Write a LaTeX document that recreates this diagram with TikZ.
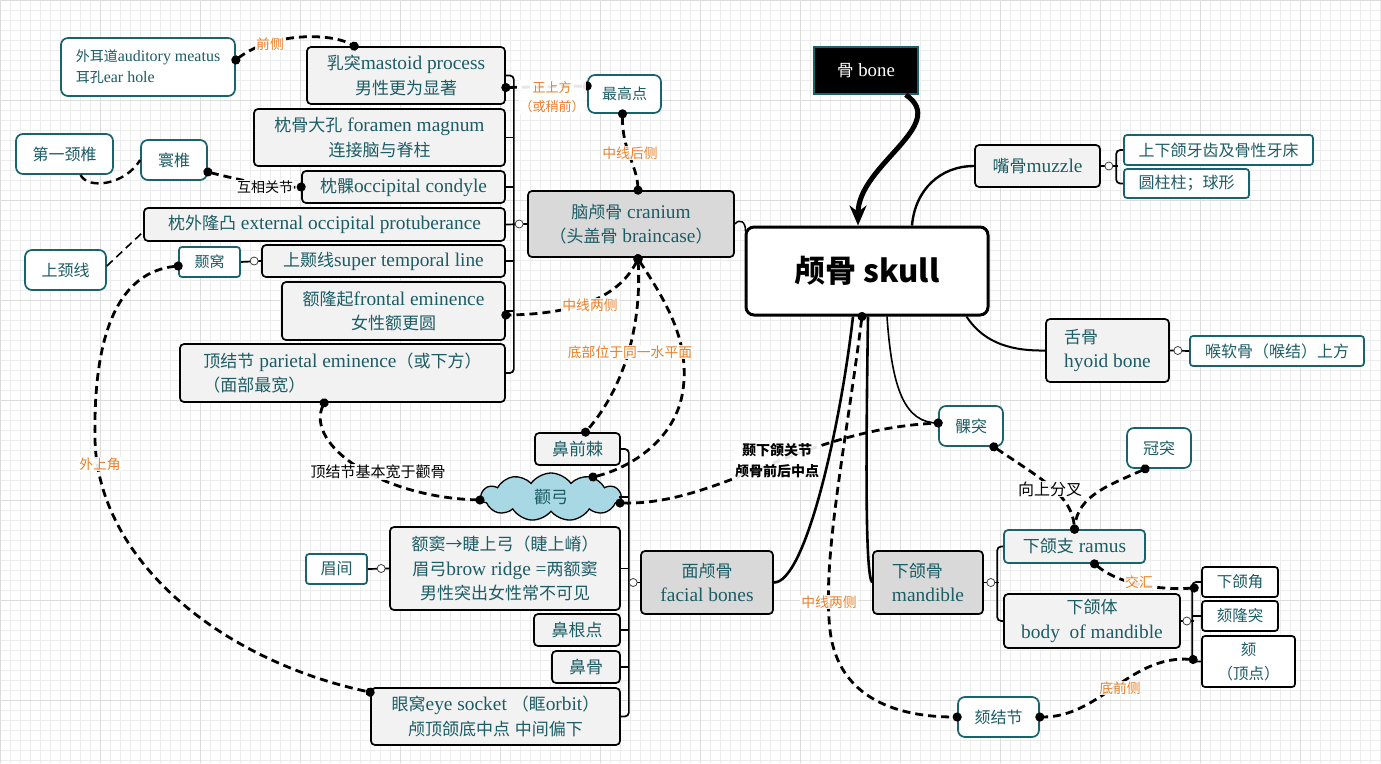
\documentclass[tikz,border=0pt]{standalone}
\usepackage{fontspec}
\setmainfont{Liberation Serif}[Scale=1.14]
\newfontfamily\cjk{Noto Sans CJK SC}
\usetikzlibrary{arrows.meta,shapes.symbols,calc}
\XeTeXinterchartokenstate=1
\newXeTeXintercharclass\CJKcls
\newcount\cjkcnt
\cjkcnt="3000
\loop\ifnum\cjkcnt<"A000
  \XeTeXcharclass\cjkcnt=\CJKcls
  \advance\cjkcnt by 1
\repeat
\cjkcnt="FF00
\loop\ifnum\cjkcnt<"FFF0
  \XeTeXcharclass\cjkcnt=\CJKcls
  \advance\cjkcnt by 1
\repeat
\XeTeXcharclass"2192=\CJKcls
\XeTeXinterchartoks 0 \CJKcls={\begingroup\cjk}
\XeTeXinterchartoks 4095 \CJKcls={\begingroup\cjk}
\XeTeXinterchartoks \CJKcls 0={\endgroup}
\XeTeXinterchartoks \CJKcls 4095={\endgroup}

\definecolor{tealtxt}{RGB}{28,92,100}
\definecolor{tealbd}{RGB}{24,100,110}
\definecolor{lightfill}{RGB}{242,242,242}
\definecolor{grayfill}{RGB}{217,217,217}
\definecolor{orangelab}{RGB}{232,128,40}
\definecolor{cloudblue}{RGB}{168,216,228}
\definecolor{gridminor}{RGB}{236,236,236}
\definecolor{gridmajor}{RGB}{220,220,220}

\begin{document}
\begin{tikzpicture}[x=1pt,y=-1pt,
  sz/.style 2 args={minimum width=#1pt,minimum height=#2pt},
  base/.style={rounded corners=4pt,line width=1.7pt,inner sep=2pt,align=center,text=tealtxt,font=\fontsize{17}{24.5}\selectfont},
  lbox/.style={base,draw=black,fill=lightfill},
  gbox/.style={base,draw=black,fill=grayfill},
  tbox/.style={base,draw=tealbd,fill=white,rounded corners=7pt,font=\fontsize{16}{20}\selectfont},
  tlbox/.style={base,draw=tealbd,fill=lightfill},
  wbox/.style={base,draw=black,fill=white,font=\fontsize{15.5}{20}\selectfont},
  dcon/.style={line width=2.8pt,dash pattern=on 8pt off 5pt,{Circle[length=9pt]}-{Circle[length=9pt]},shorten <=-4.5pt,shorten >=-4.5pt},
  dplain/.style={line width=2.4pt,dash pattern=on 8pt off 5pt},
  brk/.style={line width=1.7pt,rounded corners=4pt},
  ocirc/.style={circle,draw=black!75,fill=white,line width=0.8pt,minimum size=8pt,inner sep=0pt},
  olab/.style={text=orangelab,font=\fontsize{13.8}{19}\selectfont,fill=white,fill opacity=0.9,text opacity=1,inner sep=1pt,align=center},
  blab/.style={text=black,font=\fontsize{14}{21}\selectfont,fill=white,fill opacity=0.9,text opacity=1,inner sep=1pt,align=center}
]
\useasboundingbox (0,0) rectangle (1381,763);
\fill[white] (0,0) rectangle (1381,763);
\foreach \i in {0,10,...,1380} \draw[gridminor,line width=0.5pt] (\i,0) -- (\i,763);
\foreach \j in {0,10,...,760} \draw[gridminor,line width=0.5pt] (0,\j) -- (1381,\j);
\foreach \i in {0,100,...,1300} \draw[gridmajor,line width=0.7pt] (\i,0) -- (\i,763);
\foreach \j in {0,100,...,700} \draw[gridmajor,line width=0.7pt] (0,\j) -- (1381,\j);

% ---------- nodes ----------
\node[fill=black,draw=tealbd,line width=1.5pt,text=white,font=\fontsize{16.5}{20}\selectfont,sz={104}{47}] (bone) at (866,70.5) {骨 bone};
\node[draw=black,fill=white,line width=3pt,rounded corners=8pt,font={\cjk\bfseries\fontsize{31}{36}\selectfont},sz={242}{88}] (skull) at (867,271) {颅骨 skull};

\node[lbox,sz={125}{42}] (muzzle) at (1037.5,166) {嘴骨muzzle};
\node[tbox,rounded corners=3pt,sz={189}{30}] (teeth) at (1218.5,150) {上下颌牙齿及骨性牙床};
\node[tbox,rounded corners=3pt,sz={125}{29}] (cyl) at (1186.5,183.5) {圆柱柱；球形};
\node[lbox,align=left,sz={123}{63}] (hyoid) at (1107.5,350.5) {舌骨\\hyoid bone};
\node[tbox,rounded corners=3pt,sz={174}{30}] (larynx) at (1277,351) {喉软骨（喉结）上方};

\node[tbox,sz={64}{40}] (condyle) at (971,426) {髁突};
\node[tbox,sz={64}{40}] (coronoid) at (1159,448) {冠突};
\node[tlbox,sz={141}{33}] (ramus) at (1074.5,546.5) {下颌支 ramus};
\node[lbox,sz={176}{54}] (bodym) at (1092,621) {下颌体\\body\ \ of mandible};
\node[wbox,rounded corners=3pt,sz={76}{30}] (angle) at (1240,582) {下颌角};
\node[wbox,rounded corners=3pt,sz={76}{30}] (mentalp) at (1240,616) {颏隆突};
\node[wbox,rounded corners=3pt,font=\fontsize{15.5}{24}\selectfont,sz={93}{51}] (chin) at (1248.5,661.5) {颏\\（顶点）};
\node[gbox,align=left,sz={110}{63}] (mandible) at (928,582.5) {下颌骨\\mandible};
\node[gbox,sz={132}{63}] (facial) at (707,582.5) {面颅骨\\facial bones};
\node[tbox,sz={81}{40}] (mentaltub) at (998.5,717) {颏结节};

\node[gbox,sz={206}{66}] (cranium) at (631,224) {脑颅骨 cranium\\（头盖骨 braincase）};
\node[lbox,sz={198}{57}] (mastoid) at (406,75.5) {乳突mastoid process\\男性更为显著};
\node[lbox,sz={251}{57}] (foramen) at (379.5,137.5) {枕骨大孔 foramen magnum\\连接脑与脊柱};
\node[lbox,sz={203}{32}] (occcond) at (403.5,187) {枕髁occipital condyle};
\node[lbox,sz={361}{33}] (eop) at (324.5,224.5) {枕外隆凸 external occipital protuberance};
\node[lbox,sz={243}{32}] (stl) at (383.5,261) {上颞线super temporal line};
\node[lbox,sz={223}{58}] (frontal) at (393.5,311) {额隆起frontal eminence\\女性额更圆};
\node[lbox,align=left,sz={325}{58}] (parietal) at (342.5,373) {顶结节 parietal eminence（或下方）\\（面部最宽）};
\node[tbox,align=left,font=\fontsize{14}{21}\selectfont,sz={174}{58}] (meatus) at (148,67) {外耳道auditory meatus\\ 耳孔ear hole};
\node[tbox,sz={97}{40}] (c1) at (64.5,154) {第一颈椎};
\node[tbox,sz={66}{40}] (atlas) at (174,160) {寰椎};
\node[tbox,sz={81}{40}] (nuchal) at (65.5,270) {上颈线};
\node[tbox,rounded corners=3pt,font=\fontsize{15}{18}\selectfont,sz={61}{30}] (tfossa) at (209.5,262) {颞窝};
\node[tbox,font=\fontsize{15}{18}\selectfont,sz={73}{38}] (highest) at (624.5,94) {最高点};

\node[lbox,sz={85}{32}] (ans) at (577.5,449) {鼻前棘};
\node[cloud,cloud puffs=11,cloud puff arc=110,aspect=2.8,draw=black,line width=1.3pt,fill=cloudblue,minimum width=140pt,minimum height=48pt,inner sep=0pt,text=tealtxt,font=\fontsize{17}{20}\selectfont] (zyg) at (551,497) {颧弓};
\node[lbox,sz={230}{83}] (brow) at (505,568.5) {额窦→睫上弓（睫上嵴）\\眉弓brow ridge =两额窦\\男性突出女性常不可见};
\node[tbox,rounded corners=3pt,sz={61}{30}] (glabella) at (336.5,569) {眉间};
\node[lbox,sz={86}{32}] (nasion) at (577,630) {鼻根点};
\node[lbox,sz={68}{32}] (nasal) at (586,667) {鼻骨};
\node[lbox,sz={249}{57}] (orbit) at (495.5,716.5) {眼窝eye socket （眶orbit）\\颅顶颌底中点 中间偏下};

% ---------- brackets and small connectors ----------
\draw[brk] (mastoid.east) -| ($(parietal.east)+(8,0)$) -- (parietal.east);
\foreach \n in {foramen,occcond,stl,frontal} \draw[brk] (\n.east) -- ++(8,0);
\draw[brk] (eop.east) -- (cranium.west);
\node[ocirc] (oc1) at ($(cranium.west)+(-8,0)$) {};

\coordinate (fb) at ($(ans.east)+(8,0)$);
\coordinate (zr) at ($(zyg.center)+(68,0)$);
\draw[brk] (ans.east) -| ($(orbit.east)+(8,0)$) -- (orbit.east);
\foreach \n in {brow,nasion,nasal} \draw[brk] (\n.east) -- (\n.east -| fb);
\draw[brk] (zr) -- (zr -| fb);
\draw[brk] (facial.west) -- (facial.west -| fb);
\node[ocirc] (oc2) at ($(facial.west)+(-7,0)$) {};

\draw[brk] (ramus.west) -| ($(bodym.west)+(-6,0)$) -- (bodym.west);
\draw[brk] (mandible.east) -- ++(15,0);
\node[ocirc] (oc3) at ($(mandible.east)+(7,0)$) {};

\draw[brk] (angle.west) -| ($(chin.west)+(-9,0)$) -- (chin.west);
\draw[brk] (mentalp.west) -- ++(-9,0);
\draw[brk] (bodym.east) -- ++(13,0);
\node[ocirc] (oc4) at ($(bodym.east)+(6,0)$) {};

\draw[brk] (teeth.west) -| ($(cyl.west)+(-7,0)$) -- (cyl.west);
\draw[brk] (muzzle.east) -- ++(17,0);
\node[ocirc] (oc5) at ($(muzzle.east)+(8,0)$) {};

\draw[brk] (hyoid.east) -- (larynx.west);
\node[ocirc] (oc6) at ($(hyoid.east)+(8,0)$) {};
\draw[brk] (tfossa.east) -- (stl.west);
\node[ocirc] (oc7) at ($(stl.west)+(-7,0)$) {};
\draw[brk] (glabella.east) -- (brow.west);
\node[ocirc] (oc8) at ($(brow.west)+(-8,0)$) {};

% ---------- solid branches from skull ----------
\draw[line width=1.5pt] (cranium.east) .. controls (740,218) and (746,222) .. ($(skull.north west)+(1,6)$);
\draw[line width=2.4pt] ($(skull.north)+(45,0)$) .. controls (915,190) and (940,166) .. (muzzle.west);
\draw[line width=2pt] ($(skull.south east)+(-23,0)$) .. controls (985,345) and (1015,351) .. (hyoid.west);
\draw[line width=2.6pt] ($(skull.south)+(-14,0)$) .. controls (840,430) and (805,583) .. (facial.east);
\draw[line width=2.6pt] ($(skull.south)+(1,0)$) .. controls (866,450) and (865,575) .. (mandible.west);
\draw[line width=1.6pt] ($(skull.south)+(20,0)$) .. controls (892,390) and (905,423) .. ($(condyle.west)+(0,-3)$);
\draw[line width=5pt,-{Stealth[length=20pt,width=17pt]}] ($(bone.south east)+(-13,0)$) .. controls (950,125) and (858,165) .. ($(skull.north)+(-9,0)$);

% ---------- dashed relations ----------
\draw[dcon] ($(meatus.east)+(0,-7)$) .. controls (270,33) and (330,32) .. ($(mastoid.north west)+(48,0)$);
\node[olab] (l1) at (270,44) {前侧};
\draw[dcon] ($(mastoid.east)+(0,12)$) -- ($(highest.west)+(0,-8)$);
\node[olab,font=\fontsize{13}{19}\selectfont] (l2) at (552,97) {正上方\\（或稍前）};
\draw[dcon] ($(highest.south)+(-2,0)$) .. controls (622,150) and (637,165) .. ($(cranium.north)+(7,0)$);
\node[olab] (l3) at (630,153) {中线后侧};
\draw[dcon] ($(atlas.east)+(0,12)$) .. controls (240,180) and (275,188) .. (occcond.west);
\node[blab] (l4) at (265,187) {互相关节};
\draw[dplain] ($(c1.south)+(16,0)$) .. controls (88,190) and (125,185) .. (atlas.west);
\draw[dplain,line width=1.6pt] ($(nuchal.east)+(0,-4)$) -- ($(eop.south west)+(0,-10)$);
\draw[dcon] ($(tfossa.west)+(0,4)$) .. controls (120,272) and (93,330) .. (95,440) .. controls (98,560) and (220,660) .. ($(orbit.north west)+(0,5)$);
\node[olab] (l5) at (100,464) {外上角};

\coordinate (cb) at ($(cranium.south)+(7,1)$);
\draw[dcon] (cb) .. controls (620,295) and (580,314) .. ($(frontal.east)+(0,4)$);
\node[olab] (l6) at (590,305) {中线两侧};
\draw[dcon] (cb) .. controls (642,330) and (622,390) .. ($(ans.north)+(8,0)$);
\draw[dcon] (cb) .. controls (665,300) and (690,340) .. (683,390) .. controls (676,440) and (630,468) .. ($(zyg.center)+(42,-20)$);
\node[olab] (l7) at (630,352) {底部位于同一水平面};
\draw[dcon] ($(parietal.south west)+(145,0)$) .. controls (305,445) and (380,497) .. ($(zyg.center)+(-71,3)$);
\node[blab,font=\fontsize{15}{21}\selectfont] (l8) at (378,472) {顶结节基本宽于颧骨};
\draw[dcon] ($(zyg.center)+(69,6)$) .. controls (720,505) and (800,430) .. ($(condyle.west)+(0,-3)$);
\node[blab,font=\bfseries\fontsize{14}{21}\selectfont] (l9) at (777,461) {颞下颌关节\\颅骨前后中点};

\draw[dcon] ($(condyle.south east)+(-10,0)$) .. controls (1040,478) and (1072,495) .. (ramus.north);
\draw[dcon] ($(coronoid.south west)+(19,0)$) .. controls (1110,485) and (1078,495) .. (ramus.north);
\node[blab,font=\fontsize{16}{20}\selectfont] (l10) at (1050,489) {向上分叉};
\draw[dcon] ($(ramus.south)+(20,0)$) .. controls (1120,585) and (1160,590) .. ($(angle.west)+(-7,6)$);
\node[olab] (l11) at (1139,582) {交汇};
\draw[dcon] ($(chin.west)+(-8,-2)$) .. controls (1130,655) and (1100,717) .. (mentaltub.east);
\node[olab] (l12) at (1120,688) {底前侧};
\draw[dcon] ($(skull.south)+(-5,0)$) .. controls (845,450) and (822,560) .. (830,630) .. controls (838,700) and (900,717) .. (mentaltub.west);
\node[olab] (l13) at (829,602) {中线两侧};
\end{tikzpicture}
\end{document}
